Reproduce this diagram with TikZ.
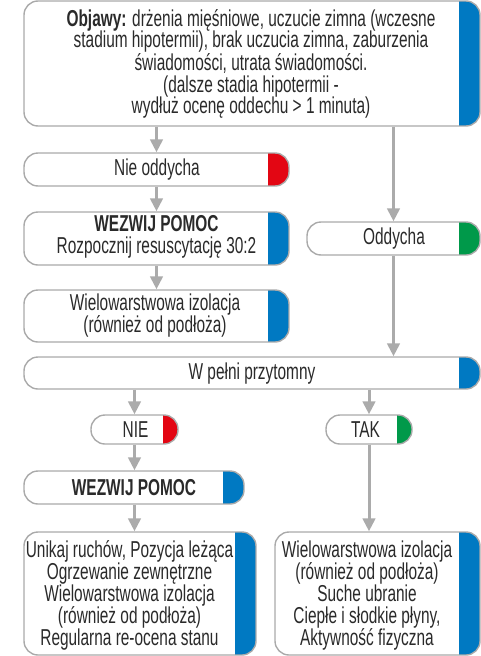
\documentclass[tikz,border=0pt]{standalone}
\usepackage{fontspec}
\setmainfont{Liberation Sans}[FakeStretch=0.67]
\usetikzlibrary{arrows.meta}
\definecolor{bgray}{HTML}{AAAAAA}
\definecolor{agray}{HTML}{ABABAB}
\definecolor{cblue}{HTML}{0079C2}
\definecolor{cred}{HTML}{E30613}
\definecolor{cgreen}{HTML}{00994A}
\definecolor{tcol}{HTML}{2A2A2A}
\tikzset{
  box/.style 2 args={draw=bgray, line width=1.4pt, rounded corners=14pt, fill=white, inner sep=0pt,
    path picture={\fill[#1, sharp corners] ([xshift=-#2]path picture bounding box.north east) rectangle (path picture bounding box.south east);}},
  txt/.style={text=tcol, font=\fontsize{23}{21.6}\selectfont, align=center, inner sep=0pt},
  arr/.style={draw=agray, line width=3pt, -{Triangle[width=12.5pt,length=13pt]}},
}
\begin{document}
\begin{tikzpicture}[x=1pt,y=-1pt]
\useasboundingbox (0,0) rectangle (481,656);
% boxes
\node[box={cblue}{21pt}, minimum width=456pt, minimum height=125pt] (obj) at (252,63.5) {};
\node[box={cred}{21pt}, minimum width=265pt, minimum height=33pt] (nie) at (156.5,169.5) {};
\node[box={cblue}{21pt}, minimum width=265pt, minimum height=53pt] (wez1) at (156.5,238.5) {};
\node[box={cgreen}{21pt}, minimum width=173pt, minimum height=33pt] (odd) at (393.5,238.5) {};
\node[box={cblue}{21pt}, minimum width=265pt, minimum height=52pt] (wiel) at (156.5,316) {};
\node[box={cblue}{21pt}, minimum width=456pt, minimum height=32pt] (pel) at (252,373) {};
\node[box={cred}{15.5pt}, minimum width=87pt, minimum height=29pt] (niep) at (134.5,429.5) {};
\node[box={cgreen}{15.5pt}, minimum width=86pt, minimum height=29pt] (tak) at (369,429.5) {};
\node[box={cblue}{21pt}, minimum width=220pt, minimum height=33pt] (wez2) at (134,487.5) {};
\node[box={cblue}{21pt}, minimum width=232pt, minimum height=123pt] (lb) at (140,593.5) {};
\node[box={cblue}{21pt}, minimum width=205pt, minimum height=123pt] (rb) at (377.5,593.5) {};
% texts
\node[txt] (objt) at (251,64) {\textbf{Objawy:} drżenia mięśniowe, uczucie zimna (wczesne\\stadium hipotermii), brak uczucia zimna, zaburzenia\\świadomości, utrata świadomości.\\(dalsze stadia hipotermii -\\wydłuż ocenę oddechu > 1 minuta)};
\node[txt] (niet) at (157,170) {Nie oddycha};
\node[txt] (wez1t) at (156.5,237) {\textbf{WEZWIJ POMOC}\\Rozpocznij resuscytację 30:2};
\node[txt] (oddt) at (394,239) {Oddycha};
\node[txt] (wielt) at (155,315.5) {Wielowarstwowa izolacja\\(również od podłoża)};
\node[txt] (pelt) at (252,373.5) {W pełni przytomny};
\node[txt] (niept) at (135.5,430) {NIE};
\node[txt] (takt) at (365.5,430) {TAK};
\node[txt] (wez2t) at (134,488) {\textbf{WEZWIJ POMOC}};
\node[txt] (lbt) at (129.5,595.5) {Unikaj ruchów, Pozycja leżąca\\Ogrzewanie zewnętrzne\\Wielowarstwowa izolacja\\(również od podłoża)\\Regularna re-ocena stanu};
\node[txt] (rbt) at (367,595.5) {Wielowarstwowa izolacja\\(również od podłoża)\\Suche ubranie\\Ciepłe i słodkie płyny,\\Aktywność fizyczna};
% connectors
\draw[arr] (obj.south -| nie) -- (nie.north);
\draw[arr] (nie.south) -- (wez1.north);
\draw[arr] (wez1.south) -- (wiel.north);
\draw[arr] (obj.south -| odd) -- (odd.north);
\draw[arr] (odd.south) -- (pel.north -| odd);
\draw[arr] (pel.south -| niep) -- (niep.north);
\draw[arr] (pel.south -| tak) -- (tak.north);
\draw[arr] (niep.south) -- (niep.south |- wez2.north);
\draw[arr] (wez2.south -| niep) -- (niep |- lb.north);
\draw[arr] (tak.south) -- (tak |- rb.north);
\end{tikzpicture}
\end{document}
